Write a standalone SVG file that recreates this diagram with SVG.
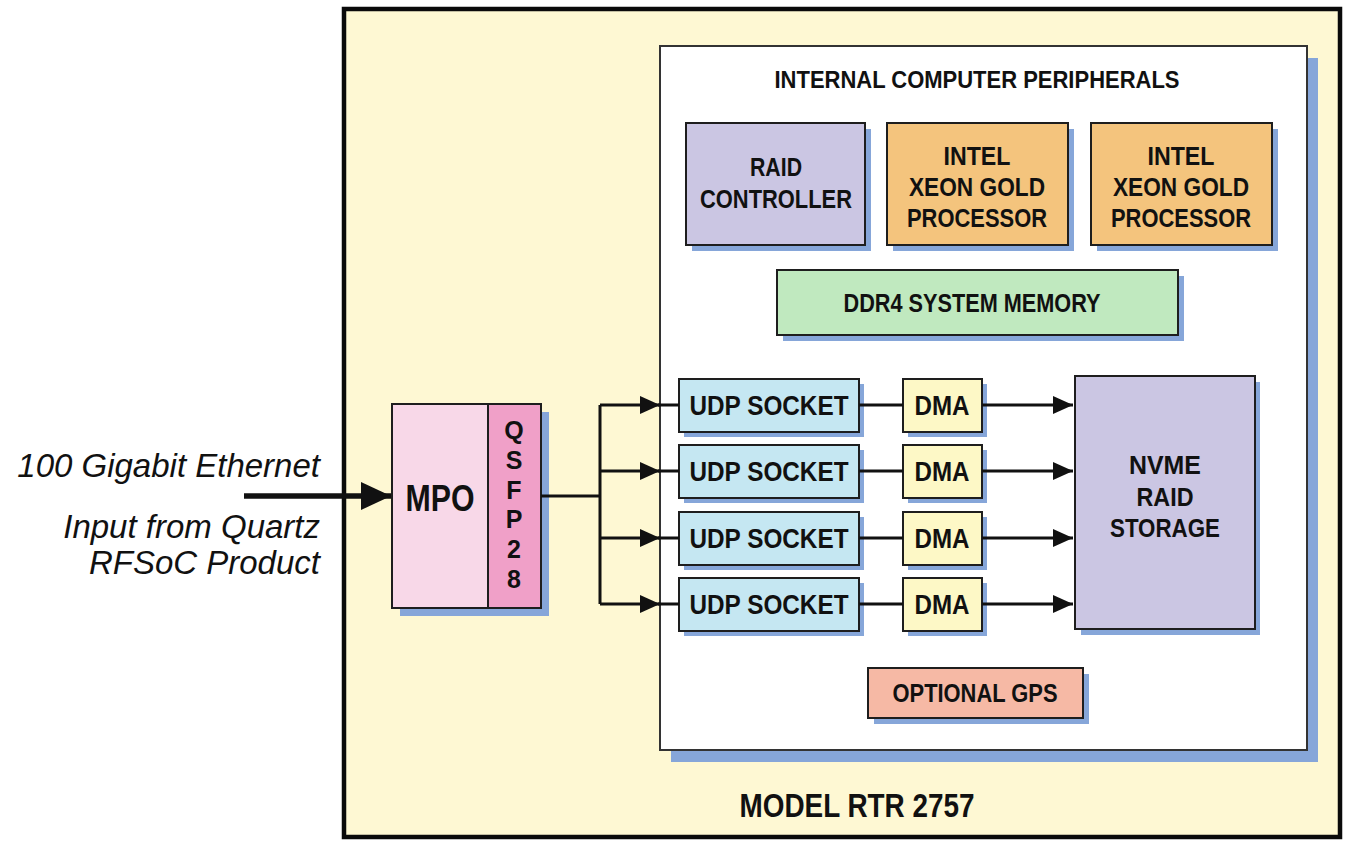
<svg xmlns="http://www.w3.org/2000/svg" width="1350" height="843" viewBox="0 0 1350 843">
<defs>
<style>
.box{stroke:#1e1e1e;stroke-width:2}
.sh{fill:#86a6d9}
.lbl{font-family:"Liberation Sans",Arial,sans-serif;font-weight:bold;fill:#111;text-anchor:middle}
.it{font-family:"Liberation Sans",Arial,sans-serif;font-style:italic;fill:#111;text-anchor:end;font-size:33px}
.ln{stroke:#111;stroke-width:3;fill:none}
</style>
<marker id="ah" markerWidth="20" markerHeight="18" refX="20" refY="9" orient="auto" markerUnits="userSpaceOnUse">
<path d="M0,0 L20,9 L0,18 Z" fill="#111"/>
</marker>
<marker id="ahBig" markerWidth="30" markerHeight="30" refX="30" refY="15" orient="auto" markerUnits="userSpaceOnUse">
<path d="M0,1 L30,15 L0,29 Z" fill="#111"/>
</marker>
</defs>
<rect width="1350" height="843" fill="#ffffff"/>

<g id="outer">
<rect x="344" y="9" width="996" height="828" fill="#fef8d3" stroke="#0a0a0a" stroke-width="4.5"/>
<text class="lbl" x="857" y="817" font-size="33" textLength="235" lengthAdjust="spacingAndGlyphs">MODEL RTR 2757</text>
</g>

<g id="peripherals">
<rect class="sh" x="671" y="58" width="647" height="704"/>
<rect x="660" y="46" width="647" height="704" fill="#ffffff" stroke="#333" stroke-width="2"/>
<text class="lbl" x="977" y="88" font-size="23" textLength="405" lengthAdjust="spacingAndGlyphs">INTERNAL COMPUTER PERIPHERALS</text>
</g>

<g id="raid-controller">
<rect class="sh" x="692" y="129" width="179" height="122"/>
<rect class="box" x="686" y="123" width="179" height="122" fill="#cbc6e3"/>
<text class="lbl" x="776" y="176" font-size="26" textLength="52" lengthAdjust="spacingAndGlyphs">RAID</text>
<text class="lbl" x="776" y="208" font-size="26" textLength="152" lengthAdjust="spacingAndGlyphs">CONTROLLER</text>
</g>

<g id="xeon-1">
<rect class="sh" x="893" y="129" width="181" height="122"/>
<rect class="box" x="887" y="123" width="181" height="122" fill="#f4c47d"/>
<text class="lbl" x="977" y="165" font-size="26" textLength="67" lengthAdjust="spacingAndGlyphs">INTEL</text>
<text class="lbl" x="977" y="196" font-size="26" textLength="136" lengthAdjust="spacingAndGlyphs">XEON GOLD</text>
<text class="lbl" x="977" y="227" font-size="26" textLength="140" lengthAdjust="spacingAndGlyphs">PROCESSOR</text>
</g>

<g id="xeon-2">
<rect class="sh" x="1097" y="129" width="181" height="122"/>
<rect class="box" x="1091" y="123" width="181" height="122" fill="#f4c47d"/>
<text class="lbl" x="1181" y="165" font-size="26" textLength="67" lengthAdjust="spacingAndGlyphs">INTEL</text>
<text class="lbl" x="1181" y="196" font-size="26" textLength="136" lengthAdjust="spacingAndGlyphs">XEON GOLD</text>
<text class="lbl" x="1181" y="227" font-size="26" textLength="140" lengthAdjust="spacingAndGlyphs">PROCESSOR</text>
</g>

<g id="ddr4">
<rect class="sh" x="783" y="276" width="401" height="65"/>
<rect class="box" x="777" y="270" width="401" height="65" fill="#c0e9bf"/>
<text class="lbl" x="972" y="312" font-size="26" textLength="257" lengthAdjust="spacingAndGlyphs">DDR4 SYSTEM MEMORY</text>
</g>

<g id="udp-1">
<rect class="sh" x="684" y="384" width="180" height="53"/>
<rect class="box" x="679" y="379" width="180" height="53" fill="#c5e7f2"/>
<text class="lbl" x="769" y="415" font-size="27" textLength="159" lengthAdjust="spacingAndGlyphs">UDP SOCKET</text>
</g>
<g id="udp-2">
<rect class="sh" x="684" y="450" width="180" height="53"/>
<rect class="box" x="679" y="445" width="180" height="53" fill="#c5e7f2"/>
<text class="lbl" x="769" y="481" font-size="27" textLength="159" lengthAdjust="spacingAndGlyphs">UDP SOCKET</text>
</g>
<g id="udp-3">
<rect class="sh" x="684" y="517" width="180" height="53"/>
<rect class="box" x="679" y="512" width="180" height="53" fill="#c5e7f2"/>
<text class="lbl" x="769" y="548" font-size="27" textLength="159" lengthAdjust="spacingAndGlyphs">UDP SOCKET</text>
</g>
<g id="udp-4">
<rect class="sh" x="684" y="583" width="180" height="53"/>
<rect class="box" x="679" y="578" width="180" height="53" fill="#c5e7f2"/>
<text class="lbl" x="769" y="614" font-size="27" textLength="159" lengthAdjust="spacingAndGlyphs">UDP SOCKET</text>
</g>

<g id="dma-1">
<rect class="sh" x="908" y="384" width="79" height="53"/>
<rect class="box" x="903" y="379" width="79" height="53" fill="#fdf8c6"/>
<text class="lbl" x="942" y="415" font-size="27" textLength="55" lengthAdjust="spacingAndGlyphs">DMA</text>
</g>
<g id="dma-2">
<rect class="sh" x="908" y="450" width="79" height="53"/>
<rect class="box" x="903" y="445" width="79" height="53" fill="#fdf8c6"/>
<text class="lbl" x="942" y="481" font-size="27" textLength="55" lengthAdjust="spacingAndGlyphs">DMA</text>
</g>
<g id="dma-3">
<rect class="sh" x="908" y="517" width="79" height="53"/>
<rect class="box" x="903" y="512" width="79" height="53" fill="#fdf8c6"/>
<text class="lbl" x="942" y="548" font-size="27" textLength="55" lengthAdjust="spacingAndGlyphs">DMA</text>
</g>
<g id="dma-4">
<rect class="sh" x="908" y="583" width="79" height="53"/>
<rect class="box" x="903" y="578" width="79" height="53" fill="#fdf8c6"/>
<text class="lbl" x="942" y="614" font-size="27" textLength="55" lengthAdjust="spacingAndGlyphs">DMA</text>
</g>

<g id="nvme">
<rect class="sh" x="1081" y="382" width="179" height="253"/>
<rect class="box" x="1075" y="376" width="180" height="253" fill="#cbc6e3"/>
<text class="lbl" x="1165" y="474" font-size="26" textLength="72" lengthAdjust="spacingAndGlyphs">NVME</text>
<text class="lbl" x="1165" y="506" font-size="26" textLength="57" lengthAdjust="spacingAndGlyphs">RAID</text>
<text class="lbl" x="1165" y="537" font-size="26" textLength="110" lengthAdjust="spacingAndGlyphs">STORAGE</text>
</g>

<g id="gps">
<rect class="sh" x="874" y="674" width="215" height="50"/>
<rect class="box" x="868" y="668" width="215" height="50" fill="#f6b9a5"/>
<text class="lbl" x="975" y="702" font-size="25" textLength="165" lengthAdjust="spacingAndGlyphs">OPTIONAL GPS</text>
</g>

<g id="mpo-qsfp">
<rect class="sh" x="400" y="412" width="149" height="204"/>
<rect class="box" x="392" y="404" width="96" height="204" fill="#f8d8e8"/>
<rect class="box" x="488" y="404" width="53" height="204" fill="#f0a0c8"/>
<text class="lbl" x="440" y="511" font-size="37" textLength="69" lengthAdjust="spacingAndGlyphs">MPO</text>
<text class="lbl" x="514" y="439" font-size="25">Q</text>
<text class="lbl" x="514" y="469" font-size="25">S</text>
<text class="lbl" x="514" y="499" font-size="25">F</text>
<text class="lbl" x="514" y="528" font-size="25">P</text>
<text class="lbl" x="514" y="558" font-size="25">2</text>
<text class="lbl" x="514" y="588" font-size="25">8</text>
</g>

<g id="input-label">
<text class="it" x="320" y="477">100 Gigabit Ethernet</text>
<text class="it" x="320" y="538">Input from Quartz</text>
<text class="it" x="320" y="574">RFSoC Product</text>
</g>

<g id="connectors">
<line x1="244" y1="496" x2="391" y2="496" stroke="#111" stroke-width="5.5" marker-end="url(#ahBig)"/>
<path class="ln" d="M541,496 H600 M600,405 V604"/>
<line class="ln" x1="600" y1="405" x2="660" y2="405" marker-end="url(#ah)"/>
<line class="ln" x1="600" y1="471" x2="660" y2="471" marker-end="url(#ah)"/>
<line class="ln" x1="600" y1="538" x2="660" y2="538" marker-end="url(#ah)"/>
<line class="ln" x1="600" y1="604" x2="660" y2="604" marker-end="url(#ah)"/>
<path class="ln" d="M658,405 H679 M658,471 H679 M658,538 H679 M658,604 H679" stroke-width="2"/>
<path class="ln" d="M859,405 H903 M859,471 H903 M859,538 H903 M859,604 H903" stroke-width="2"/>
<line class="ln" x1="982" y1="405" x2="1073" y2="405" marker-end="url(#ah)"/>
<line class="ln" x1="982" y1="471" x2="1073" y2="471" marker-end="url(#ah)"/>
<line class="ln" x1="982" y1="538" x2="1073" y2="538" marker-end="url(#ah)"/>
<line class="ln" x1="982" y1="604" x2="1073" y2="604" marker-end="url(#ah)"/>
</g>
</svg>
